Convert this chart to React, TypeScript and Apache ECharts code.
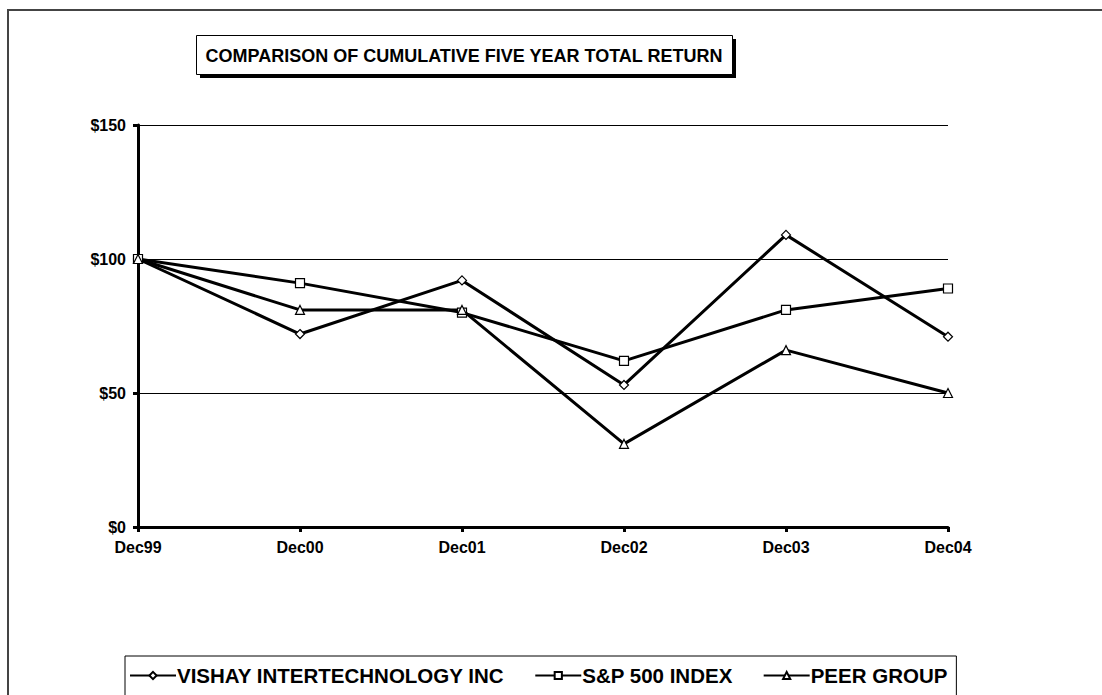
import React, { useEffect, useRef } from "react";
import * as echarts from "echarts";

const categories = ["Dec99", "Dec00", "Dec01", "Dec02", "Dec03", "Dec04"];
const vishay = [100, 72, 92, 53, 109, 71];
const sp500 = [100, 91, 80, 62, 81, 89];
const peer = [100, 81, 81, 31, 66, 50];
const seriesNames = ["VISHAY INTERTECHNOLOGY INC", "S&P 500 INDEX", "PEER GROUP"];
const titleText = "COMPARISON OF CUMULATIVE FIVE YEAR TOTAL RETURN";

const FONT = "'Liberation Sans', Arial, sans-serif";

export default function App() {
  const ref = useRef<HTMLDivElement>(null);
  useEffect(() => {
    document.body.style.margin = "0";
    document.body.style.overflow = "hidden";
    document.documentElement.style.overflow = "hidden";
    const chart = echarts.init(ref.current!, undefined, { renderer: "svg" });
    const mk = (name: string, data: number[], symbol: string) => ({
      name,
      type: "line",
      data,
      symbol,
      symbolSize: 9,
      showAllSymbol: true,
      lineStyle: { color: "#000", width: 3 },
      itemStyle: { color: "#fff", borderColor: "#000", borderWidth: 1.2 },
      emphasis: { disabled: true },
    });
    chart.setOption({
      animation: false,
      backgroundColor: "#fff",
      grid: { left: 138, top: 125, right: 154, bottom: 168 },
      xAxis: {
        type: "category",
        data: categories,
        boundaryGap: false,
        axisLine: { lineStyle: { color: "#000", width: 3 } },
        axisTick: { show: true, length: 5, lineStyle: { color: "#000", width: 3 } },
        axisLabel: { color: "#000", fontWeight: "bold", fontSize: 16, fontFamily: FONT, margin: 12 },
        splitLine: { show: false },
      },
      yAxis: {
        type: "value",
        min: 0,
        max: 150,
        interval: 50,
        axisLine: { show: true, lineStyle: { color: "#000", width: 3 } },
        axisTick: { show: true, length: 5, lineStyle: { color: "#000", width: 3 } },
        axisLabel: {
          color: "#000",
          fontWeight: "bold",
          fontSize: 16,
          fontFamily: FONT,
          margin: 12,
          formatter: (v: number) => "$" + v,
        },
        splitLine: { show: true, lineStyle: { color: "#000", width: 1 } },
      },
      legend: {
        data: seriesNames,
        left: 125,
        top: 656,
        borderColor: "#000",
        borderWidth: 1,
        padding: [9, 9, 30, 4],
        itemGap: 30,
        itemWidth: 46,
        itemHeight: 9,
        textStyle: { color: "#000", fontWeight: "bold", fontSize: 20.5, fontFamily: FONT, padding: [0, 0, 0, -4] },
        selectedMode: false,
      },
      graphic: [
        {
          type: "line",
          z: -10,
          shape: { x1: 8, y1: 9, x2: 8, y2: 900 },
          style: { stroke: "#444", lineWidth: 2 },
        },
        {
          type: "line",
          z: -10,
          shape: { x1: 7, y1: 10, x2: 1300, y2: 10 },
          style: { stroke: "#444", lineWidth: 2 },
        },
        {
          type: "rect",
          shape: { x: 200, y: 39, width: 536, height: 39 },
          style: { fill: "#000" },
        },
        {
          type: "rect",
          shape: { x: 196.5, y: 35.5, width: 536, height: 39 },
          style: { fill: "#fff", stroke: "#000", lineWidth: 1 },
        },
        {
          type: "text",
          x: 464,
          y: 56,
          style: {
            text: titleText,
            fill: "#000",
            font: "bold 18px " + FONT,
            textAlign: "center",
            textVerticalAlign: "middle",
          },
        },
      ],
      series: [mk(seriesNames[0], vishay, "diamond"), mk(seriesNames[1], sp500, "rect"), mk(seriesNames[2], peer, "triangle")],
    });
    return () => chart.dispose();
  }, []);
  return <div ref={ref} style={{ width: 1102, height: 695 }} />;
}
